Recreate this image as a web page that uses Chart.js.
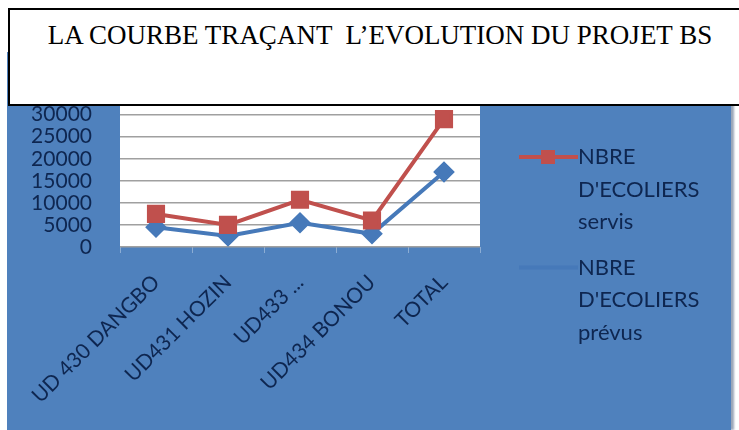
<!DOCTYPE html>
<html>
<head>
<meta charset="utf-8">
<script src="https://cdn.jsdelivr.net/npm/chart.js@4/dist/chart.umd.min.js"></script>
<style>
html, body { margin: 0; padding: 0; background: #fff; width: 739px; height: 430px; overflow: hidden; position: relative; }
#wrap { position: absolute; left: 7px; top: 52px; width: 724px; height: 378px; background: #4f81bd; box-shadow: 3px 0 2px #9aa6b8; }
#titre { position: absolute; left: 8px; top: 8px; width: 740px; height: 84px; padding-top: 10px; border: 2px solid #000; background: #fff; z-index: 2;
         font-family: "Liberation Serif", "Times New Roman", serif; font-size: 27px; line-height: 30px; text-align: center; color: #000; white-space: pre; }
</style>
</head>
<body>
<div id="titre">LA COURBE TRAÇANT  L’EVOLUTION DU PROJET BS</div>
<div id="wrap"><canvas id="chart" width="724" height="378"></canvas></div>
<script>
// données
var categories = ['UD 430 DANGBO', 'UD431 HOZIN', 'UD433 ...', 'UD434 BONOU', 'TOTAL'];
var servis = [7500, 5000, 10700, 6000, 29000];
var prevus = [4500, 2500, 5500, 3000, 17000];
var seriesNames = ["NBRE D'ECOLIERS servis", "NBRE D'ECOLIERS prévus"];
var yMax = 35000;
var yStep = 5000;

var textColor = '#0e2650';
var redColor = '#c0504d';
var blueColor = '#4679b9';

// fond blanc de la zone de tracé
var plotBg = {
    id: 'plotBg',
    beforeDraw: function (chart) {
        var a = chart.chartArea;
        var ctx = chart.ctx;
        ctx.save();
        ctx.fillStyle = '#ffffff';
        ctx.fillRect(a.left, a.top, a.right - a.left, a.bottom - a.top);
        ctx.restore();
    }
};

// légende à droite, une ligne par mot
var sideLegend = {
    id: 'sideLegend',
    afterDraw: function (chart) {
        var ctx = chart.ctx;
        var x0 = chart.chartArea.right + 39;
        var y = 105;
        ctx.save();
        ctx.font = '22px Lato';
        ctx.textBaseline = 'middle';
        ctx.textAlign = 'left';
        chart.data.datasets.forEach(function (ds) {
            ctx.strokeStyle = ds.borderColor;
            ctx.lineWidth = 4;
            ctx.beginPath();
            ctx.moveTo(x0, y);
            ctx.lineTo(x0 + 59, y);
            ctx.stroke();
            if (ds.pointStyle === 'rect') {
                ctx.fillStyle = ds.pointBackgroundColor;
                ctx.fillRect(x0 + 22, y - 7, 14, 14);
            }
            ctx.fillStyle = textColor;
            var words = ds.label.split(' ');
            words.forEach(function (w, i) {
                ctx.fillText(w, x0 + 59, y + i * 32.5);
            });
            y += words.length * 32.5 + 13;
        });
        ctx.restore();
    }
};

var ctx = document.getElementById('chart').getContext('2d');
var chart = new Chart(ctx, {
    type: 'line',
    data: {
        labels: categories,
        datasets: [{
            label: seriesNames[0],
            data: servis,
            borderColor: redColor,
            backgroundColor: redColor,
            pointBackgroundColor: redColor,
            pointBorderColor: redColor,
            pointStyle: 'rect',
            pointRadius: 10,
            borderWidth: 4,
            tension: 0
        }, {
            label: seriesNames[1],
            data: prevus,
            borderColor: blueColor,
            backgroundColor: blueColor,
            pointBackgroundColor: blueColor,
            pointBorderColor: blueColor,
            pointStyle: 'rectRot',
            pointRadius: 8,
            borderWidth: 4,
            tension: 0
        }]
    },
    options: {
        responsive: false,
        animation: false,
        devicePixelRatio: 1,
        layout: { padding: { top: 32, right: 251, bottom: 0, left: 0 } },
        plugins: {
            legend: { display: false },
            tooltip: { enabled: false }
        },
        scales: {
            x: {
                offset: true,
                grid: { offset: true, drawOnChartArea: false, drawTicks: true, tickLength: 6, color: 'rgba(255,255,255,0.35)' },
                border: { display: false },
                ticks: {
                    color: textColor,
                    font: { family: 'Lato', size: 21 },
                    minRotation: 45,
                    maxRotation: 45,
                    autoSkip: false,
                    padding: 17
                },
                afterFit: function (s) { s.height = 183; }
            },
            y: {
                min: 0,
                max: yMax,
                ticks: {
                    stepSize: yStep,
                    autoSkip: false,
                    color: textColor,
                    font: { family: 'Lato', size: 21 },
                    padding: 28,
                    callback: function (v) { return String(v); }
                },
                grid: { color: '#a0a0a0', lineWidth: 1.5, drawTicks: false },
                border: { display: false },
                afterFit: function (s) { s.width = 113; }
            }
        }
    },
    plugins: [plotBg, sideLegend]
});
</script>
</body>
</html>
